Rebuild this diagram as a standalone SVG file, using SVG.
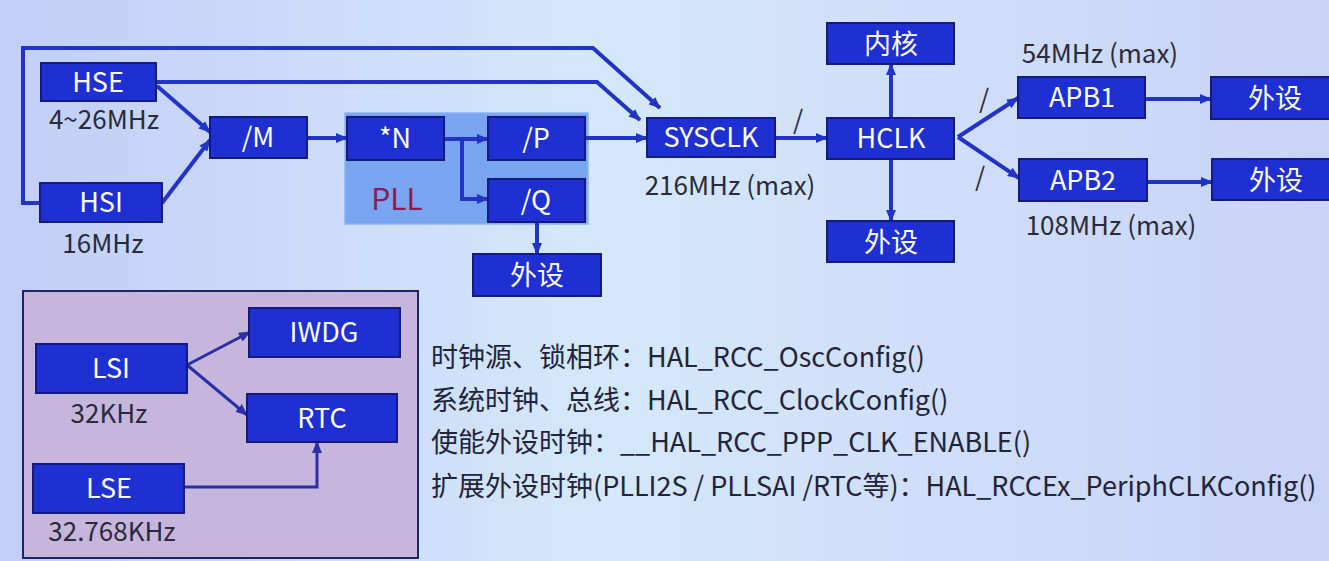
<svg xmlns="http://www.w3.org/2000/svg" width="1329" height="561" viewBox="0 0 1329 561">
<defs>
<linearGradient id="bg" x1="0" y1="0" x2="1" y2="0">
<stop offset="0" stop-color="#c2cef6"/>
<stop offset="0.45" stop-color="#d4e8fb"/>
<stop offset="1" stop-color="#c9d3f6"/>
</linearGradient>
<marker id="ah" viewBox="0 0 12 10" refX="11" refY="5" markerWidth="12" markerHeight="10" markerUnits="userSpaceOnUse" orient="auto">
<path d="M0,0 L12,5 L0,10 z" fill="#2233c8"/>
</marker>
<marker id="ah2" viewBox="0 0 12 10" refX="11" refY="5" markerWidth="12" markerHeight="10" markerUnits="userSpaceOnUse" orient="auto">
<path d="M0,0 L12,5 L0,10 z" fill="#2a2fa8"/>
</marker>
<style>
.box{fill:#1f30d2;stroke:#141a80;stroke-width:2}
.lbl{font-family:"Noto Sans CJK SC","Noto Sans",sans-serif;font-size:27px;fill:#ffffff;text-anchor:middle}
.sub{font-family:"Noto Sans CJK SC","Noto Sans",sans-serif;font-size:26px;fill:#2a2a3a;text-anchor:middle}
.txt{font-family:"Noto Sans CJK SC","Noto Sans",sans-serif;font-size:27px;fill:#23233a}
.ln{fill:none;stroke:#2233c8;stroke-width:4}
.ln2{fill:none;stroke:#2a2fa8;stroke-width:3}
</style>
</defs>
<rect x="0" y="0" width="1329" height="561" fill="url(#bg)"/>

<g id="pll-area">
<rect x="345" y="113" width="243" height="111" fill="#79a4ef" stroke="#8cb2f2" stroke-width="1.5"/>
<text x="397" y="210" font-family="'Noto Sans CJK SC','Noto Sans',sans-serif" font-size="30" fill="#8a1c55" text-anchor="middle">PLL</text>
</g>

<g id="lse-panel">
<rect x="23" y="291" width="395" height="267" fill="#c7b6dc" stroke="#1e2466" stroke-width="2"/>
</g>

<g id="connectors">
<path class="ln" d="M40,203 H23 V48 H593 L660,108" marker-end="url(#ah)"/>
<path class="ln" d="M156,82 H597 L640,120" marker-end="url(#ah)"/>
<path class="ln" d="M157,86 L210,132" marker-end="url(#ah)"/>
<path class="ln" d="M162,203 L210,140" marker-end="url(#ah)"/>
<path class="ln" d="M307,138 H347" marker-end="url(#ah)"/>
<path class="ln" d="M444,139 H488" marker-end="url(#ah)"/>
<path class="ln" d="M462,139 V199 H488" marker-end="url(#ah)"/>
<path class="ln" d="M537,222 V254" marker-end="url(#ah)"/>
<path class="ln" d="M585,138 H647" marker-end="url(#ah)"/>
<path class="ln" d="M775,138 H827" marker-end="url(#ah)"/>
<path class="ln" d="M891,118 V64" marker-end="url(#ah)"/>
<path class="ln" d="M891,159 V221" marker-end="url(#ah)"/>
<path class="ln" d="M958,137 L1018,98" marker-end="url(#ah)"/>
<path class="ln" d="M958,137 L1019,178" marker-end="url(#ah)"/>
<path class="ln" d="M1145,99 H1211" marker-end="url(#ah)"/>
<path class="ln" d="M1147,182 H1212" marker-end="url(#ah)"/>
<path class="ln2" d="M187,365 L250,332" marker-end="url(#ah2)"/>
<path class="ln2" d="M187,365 L247,415" marker-end="url(#ah2)"/>
<path class="ln2" d="M184,487 H317 V442" marker-end="url(#ah2)"/>
</g>

<g id="hse"><rect class="box" x="41" y="63" width="115" height="38"/><text class="lbl" x="98" y="92">HSE</text><text class="sub" x="104" y="129">4~26MHz</text></g>
<g id="hsi"><rect class="box" x="40" y="183" width="122" height="39"/><text class="lbl" x="101" y="212">HSI</text><text class="sub" x="103" y="253">16MHz</text></g>
<g id="div-m"><rect class="box" x="210" y="117" width="97" height="41"/><text class="lbl" x="258" y="147">/M</text></g>
<g id="mul-n"><rect class="box" x="347" y="117" width="97" height="43"/><text class="lbl" x="395" y="148">*N</text></g>
<g id="div-p"><rect class="box" x="488" y="117" width="97" height="43"/><text class="lbl" x="536" y="148">/P</text></g>
<g id="div-q"><rect class="box" x="488" y="179" width="97" height="43"/><text class="lbl" x="536" y="210">/Q</text></g>
<g id="pll-periph"><rect class="box" x="473" y="254" width="128" height="42"/><text class="lbl" x="537" y="285">外设</text></g>
<g id="sysclk"><rect class="box" x="647" y="118" width="128" height="39"/><text class="lbl" x="711" y="147">SYSCLK</text><text class="sub" x="730" y="195">216MHz (max)</text><text class="sub" x="798" y="129">/</text></g>
<g id="hclk"><rect class="box" x="827" y="118" width="127" height="41"/><text class="lbl" x="891" y="148">HCLK</text></g>
<g id="core"><rect class="box" x="827" y="23" width="127" height="41"/><text class="lbl" x="891" y="54">内核</text></g>
<g id="hclk-periph"><rect class="box" x="827" y="221" width="127" height="41"/><text class="lbl" x="891" y="252">外设</text></g>
<g id="apb1"><rect class="box" x="1018" y="77" width="127" height="41"/><text class="lbl" x="1082" y="107">APB1</text><text class="sub" x="1100" y="63">54MHz (max)</text><text class="sub" x="984" y="108">/</text></g>
<g id="apb2"><rect class="box" x="1019" y="159" width="128" height="42"/><text class="lbl" x="1083" y="190">APB2</text><text class="sub" x="1111" y="235">108MHz (max)</text><text class="sub" x="980" y="186">/</text></g>
<g id="apb1-periph"><rect class="box" x="1211" y="77" width="122" height="42"/><text class="lbl" x="1275" y="108">外设</text></g>
<g id="apb2-periph"><rect class="box" x="1212" y="159" width="121" height="41"/><text class="lbl" x="1276" y="190">外设</text></g>

<g id="lsi"><rect class="box" x="36" y="344" width="151" height="49"/><text class="lbl" x="111" y="378">LSI</text><text class="sub" x="109" y="423">32KHz</text></g>
<g id="iwdg"><rect class="box" x="249" y="308" width="151" height="49"/><text class="lbl" x="324" y="342">IWDG</text></g>
<g id="rtc"><rect class="box" x="247" y="394" width="150" height="48"/><text class="lbl" x="322" y="428">RTC</text></g>
<g id="lse"><rect class="box" x="33" y="464" width="151" height="49"/><text class="lbl" x="109" y="498">LSE</text><text class="sub" x="112" y="541">32.768KHz</text></g>

<g id="api-text">
<text class="txt" x="431" y="367">时钟源、锁相环：HAL_RCC_OscConfig()</text>
<text class="txt" x="431" y="410">系统时钟、总线：HAL_RCC_ClockConfig()</text>
<text class="txt" x="431" y="452">使能外设时钟：__HAL_RCC_PPP_CLK_ENABLE()</text>
<text class="txt" x="431" y="496">扩展外设时钟(PLLI2S / PLLSAI /RTC等)：HAL_RCCEx_PeriphCLKConfig()</text>
</g>
</svg>
